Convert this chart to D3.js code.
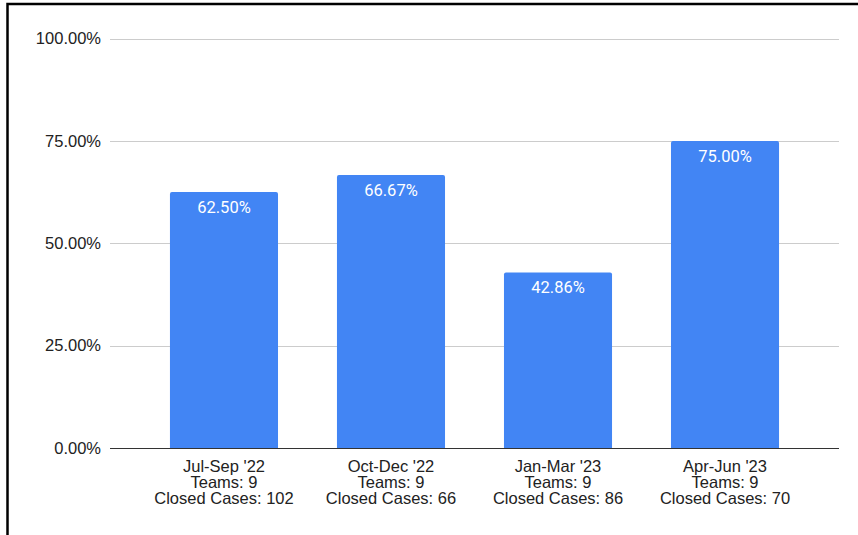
<!DOCTYPE html>
<html><head><meta charset="utf-8">
<script src="https://cdn.jsdelivr.net/npm/d3@7"></script>
<style>html,body{margin:0;padding:0;background:#fff;}svg{display:block;}</style>
</head><body>
<svg id="c" width="858" height="535"></svg>
<script>
const quarters = ["Jul-Sep '22", "Oct-Dec '22", "Jan-Mar '23", "Apr-Jun '23"];
const teams = [9, 9, 9, 9];
const closedCases = [102, 66, 86, 70];
const values = [62.50, 66.67, 42.86, 75.00];
const yTicks = [0, 25, 50, 75, 100];

(function () {
const svg = d3.select("#c");
// frame border
svg.append("rect").attr("x", 7.5).attr("y", 4).attr("width", 900).attr("height", 600)
  .attr("fill", "none").attr("stroke", "#000").attr("stroke-width", 2.5);

const pLeft = 110, pRight = 839, pTop = 38.5, pBottom = 448;
const x = d3.scaleBand().domain(quarters).range([pLeft, pRight]).paddingInner(0.353).paddingOuter(0.359);
const y = d3.scaleLinear().domain([0, 100]).range([pBottom, pTop]);

// gridlines
svg.append("g").selectAll("line").data(yTicks.filter(d => d > 0)).join("line")
  .attr("x1", pLeft).attr("x2", pRight)
  .attr("y1", d => Math.round(y(d)) + 0.5).attr("y2", d => Math.round(y(d)) + 0.5)
  .attr("stroke", "#cccccc").attr("stroke-width", 1);

// y tick labels
svg.append("g").selectAll("text").data(yTicks).join("text")
  .attr("x", 101).attr("y", d => y(d)).attr("dy", "0.35em")
  .attr("text-anchor", "end")
  .attr("font-family", "Liberation Sans, Arial, sans-serif").attr("font-size", 16.5)
  .attr("fill", "#222").text(d => d3.format(".2f")(d) + "%");

// bars with rounded top
const r = 2;
svg.append("g").selectAll("path").data(values).join("path")
  .attr("fill", "#4285f4")
  .attr("d", (d, i) => {
    const x0 = x(quarters[i]), w = x.bandwidth(), y0 = y(d), y1 = y(0);
    return `M${x0},${y1}V${y0 + r}Q${x0},${y0} ${x0 + r},${y0}H${x0 + w - r}Q${x0 + w},${y0} ${x0 + w},${y0 + r}V${y1}Z`;
  });

// value labels
svg.append("g").selectAll("text").data(values).join("text")
  .attr("x", (d, i) => x(quarters[i]) + x.bandwidth() / 2)
  .attr("y", d => y(d) + 15).attr("dy", "0.35em")
  .attr("text-anchor", "middle")
  .attr("font-family", "Roboto, sans-serif").attr("font-size", 16.5)
  .attr("fill", "#fff").text(d => d3.format(".2f")(d) + "%");

// baseline
svg.append("line").attr("x1", pLeft).attr("x2", pRight)
  .attr("y1", y(0) + 0.5).attr("y2", y(0) + 0.5)
  .attr("stroke", "#333").attr("stroke-width", 1);

// x labels
const xl = svg.append("g").selectAll("text").data(quarters).join("text")
  .attr("text-anchor", "middle")
  .attr("font-family", "Liberation Sans, Arial, sans-serif").attr("font-size", 16.5)
  .attr("fill", "#222");
xl.each(function(d, i) {
  const cx = x(d) + x.bandwidth() / 2;
  const lines = [d, "Teams: " + teams[i], "Closed Cases: " + closedCases[i]];
  d3.select(this).selectAll("tspan").data(lines).join("tspan")
    .attr("x", cx).attr("y", (l, j) => 466 + j * 16.3).attr("dy", "0.35em").text(l => l);
});
})();
</script>
</body></html>
